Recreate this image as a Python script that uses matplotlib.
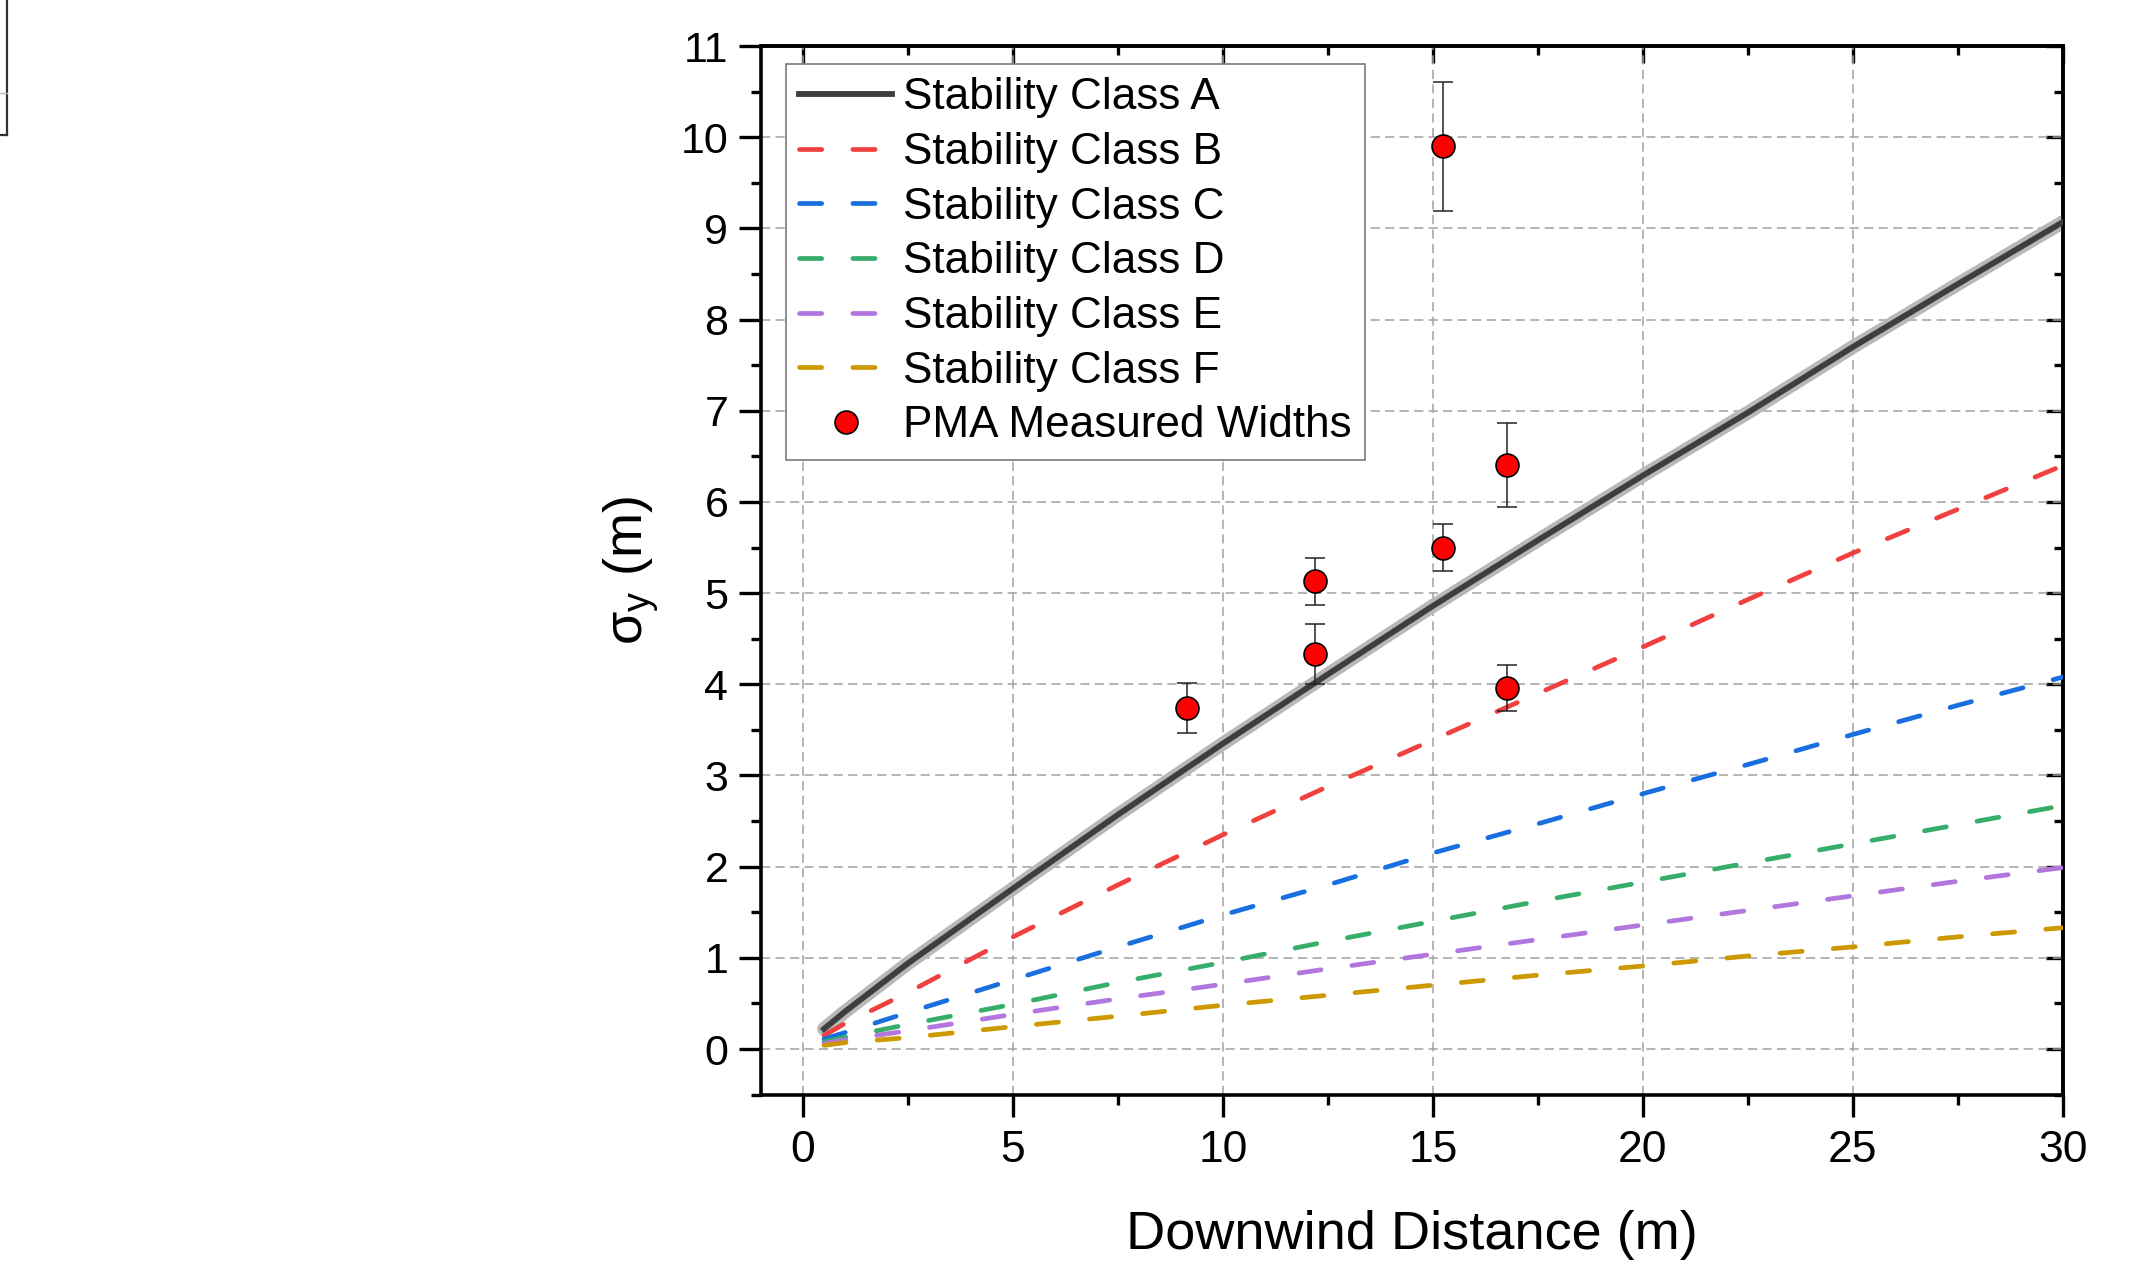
import matplotlib
matplotlib.use('Agg')
import matplotlib.pyplot as plt
from matplotlib.lines import Line2D
from matplotlib.ticker import MultipleLocator

plt.rcParams['font.family'] = ['Liberation Sans', 'DejaVu Sans']
plt.rcParams['mathtext.fontset'] = 'custom'
plt.rcParams['mathtext.rm'] = 'Liberation Sans'
plt.rcParams['mathtext.it'] = 'Liberation Sans:italic'

# sigma_y curves (m)
distance = [0.5, 1, 2.5, 5, 7.5, 10, 12.5, 15, 17.5, 20, 22.5, 25, 27.5, 30]
class_a = [0.22, 0.41, 0.94, 1.76, 2.57, 3.35, 4.11, 4.86, 5.58, 6.29, 6.98, 7.70, 8.39, 9.07]
class_b = [0.15, 0.28, 0.62, 1.23, 1.80, 2.35, 2.88, 3.39, 3.90, 4.41, 4.93, 5.44, 5.92, 6.40]
class_c = [0.11, 0.18, 0.40, 0.76, 1.12, 1.47, 1.80, 2.15, 2.47, 2.80, 3.12, 3.45, 3.77, 4.08]
class_d = [0.08, 0.13, 0.27, 0.49, 0.73, 0.95, 1.18, 1.40, 1.62, 1.83, 2.04, 2.25, 2.46, 2.67]
class_e = [0.06, 0.10, 0.20, 0.38, 0.55, 0.71, 0.88, 1.04, 1.20, 1.36, 1.52, 1.68, 1.84, 1.99]
class_f = [0.04, 0.07, 0.125, 0.245, 0.36, 0.48, 0.59, 0.70, 0.81, 0.91, 1.02, 1.12, 1.23, 1.33]

# PMA measured widths
meas_x = [9.14, 12.19, 12.19, 15.24, 15.24, 16.76, 16.76]
meas_y = [3.74, 5.13, 4.33, 9.90, 5.50, 6.40, 3.96]
meas_err = [0.27, 0.26, 0.33, 0.71, 0.26, 0.46, 0.25]

dashed = [
    (class_b, '#F14040', 'Stability Class B'),
    (class_c, '#1A6FDF', 'Stability Class C'),
    (class_d, '#37AD6B', 'Stability Class D'),
    (class_e, '#B177DE', 'Stability Class E'),
    (class_f, '#CC9900', 'Stability Class F'),
]

W, H = 2131, 1263
fig = plt.figure(figsize=(W / 100, H / 100), dpi=100)
ax = fig.add_axes([761 / W, 1 - 1094.6 / H, (2063 - 761) / W, (1094.6 - 46) / H])

# class A: dark line with a light grey halo
ax.plot(distance, class_a, color='#b8b8b8', lw=10, solid_capstyle='round', zorder=2)
ax.plot(distance, class_a, color='#3e3e3e', lw=4.2, label='Stability Class A', zorder=3)
for vals, col, lab in dashed:
    ax.plot(distance, vals, color=col, lw=3.4, ls=(0, (4.7, 6.6)),
            dash_capstyle='round', label=lab, zorder=3)

ax.errorbar(meas_x, meas_y, yerr=meas_err, fmt='none', ecolor='#222222',
            elinewidth=1.1, capsize=7.5, capthick=1.1, zorder=4)
ax.plot(meas_x, meas_y, 'o', ms=16.5, mfc='#ff0000', mec='black', mew=1.2,
        label='PMA Measured Widths', zorder=5)

ax.set_xlim(-1, 30)
ax.set_ylim(-0.5, 11)
ax.xaxis.set_major_locator(MultipleLocator(5))
ax.xaxis.set_minor_locator(MultipleLocator(2.5))
ax.yaxis.set_major_locator(MultipleLocator(1))
ax.yaxis.set_minor_locator(MultipleLocator(0.5))
ax.set_axisbelow(True)
ax.grid(True, which='major', color='#a0a0a0', lw=1.1, ls=(0, (6, 3.5)))

ax.tick_params(which='major', direction='out', length=15.5, width=2.4)
ax.tick_params(which='minor', direction='out', length=7.5, width=2.4)
ax.tick_params(axis='x', labelsize=32, pad=10)
ax.tick_params(axis='y', labelsize=31, pad=8)
for s in ax.spines.values():
    s.set_linewidth(2.6)

# inward ticks on top and right
top = ax.secondary_xaxis('top')
top.xaxis.set_major_locator(MultipleLocator(5))
top.xaxis.set_minor_locator(MultipleLocator(2.5))
top.tick_params(which='major', direction='in', length=12.5, width=2.4, labeltop=False)
top.tick_params(which='minor', direction='in', length=6.5, width=2.4)
top.spines['top'].set_linewidth(2.6)
right = ax.secondary_yaxis('right')
right.yaxis.set_major_locator(MultipleLocator(1))
right.yaxis.set_minor_locator(MultipleLocator(0.5))
right.tick_params(which='major', direction='in', length=12.5, width=2.4, labelright=False)
right.tick_params(which='minor', direction='in', length=6.5, width=2.4)
right.spines['right'].set_linewidth(2.6)

ax.set_xlabel('Downwind Distance (m)', fontsize=39, labelpad=28)
ax.set_ylabel(r'σ$_\mathrm{y}$ (m)', fontsize=39, labelpad=14)

leg = ax.legend(loc='upper left', bbox_to_anchor=(0.0192, 0.9828), borderaxespad=0,
                fontsize=31.8, frameon=True, fancybox=False, edgecolor='#6e6e6e',
                framealpha=1, handlelength=2.1, handletextpad=0.26,
                labelspacing=0.31, borderpad=0.3)
leg.get_frame().set_linewidth(1.1)

# edge of a neighbouring panel that is cropped into the top-left corner
fig.add_artist(Line2D([7.3 / W, 7.3 / W], [1, 1 - 135 / H], color='#333333', lw=1.6))
fig.add_artist(Line2D([0, 7.3 / W], [1 - 135 / H, 1 - 135 / H], color='#333333', lw=1.6))
fig.add_artist(Line2D([0, 7.3 / W], [1 - 93 / H, 1 - 93 / H], color='#bbbbbb', lw=1.0))

fig.savefig('out.png', dpi=100)
